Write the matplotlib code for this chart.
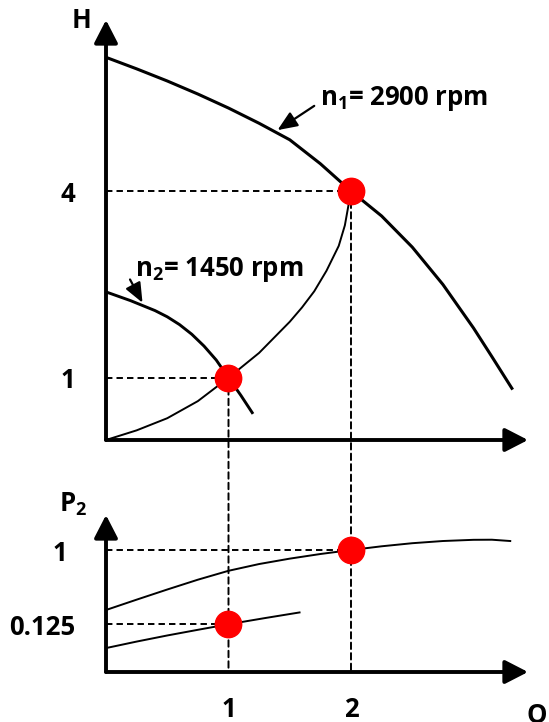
import matplotlib
matplotlib.use('Agg')
import matplotlib.pyplot as plt
from matplotlib.patches import ConnectionPatch
import numpy as np

plt.rcParams['font.family'] = ['Open Sans', 'DejaVu Sans']
plt.rcParams['font.weight'] = 'bold'
plt.rcParams['mathtext.fontset'] = 'custom'
plt.rcParams['mathtext.rm'] = 'Open Sans:bold'
plt.rcParams['mathtext.it'] = 'Open Sans:bold'
plt.rcParams['mathtext.bf'] = 'Open Sans:bold'

# ---------------- data ----------------
# pump curve at n1 = 2900 rpm (H vs Q)
q_n1 = [0.0, 0.25, 0.5, 0.75, 1.0, 1.25, 1.5, 1.75, 2.0, 2.25, 2.5, 2.75, 3.0, 3.15, 3.32]
h_n1 = [6.15, 5.965, 5.77, 5.56, 5.335, 5.09, 4.825, 4.44, 4.0, 3.6, 3.1, 2.5, 1.8, 1.34, 0.81]
# pump curve at n2 = 1450 rpm
q_n2 = [0.0, 0.2, 0.4, 0.5, 0.6, 0.7, 0.8, 0.9, 1.0, 1.1, 1.2]
h_n2 = [2.38, 2.24, 2.08, 1.98, 1.855, 1.70, 1.51, 1.285, 1.0, 0.72, 0.42]
# system / affinity parabola
q_sys = [0.0, 0.25, 0.5, 0.75, 1.0, 1.25, 1.5, 1.6, 1.7, 1.8, 1.9, 1.95, 2.0]
h_sys = [0.0, 0.155, 0.35, 0.625, 1.0, 1.4, 1.9, 2.13, 2.39, 2.72, 3.12, 3.45, 4.0]
# power curves P2 vs Q
q_p1 = [0.0, 0.25, 0.5, 0.75, 1.0, 1.25, 1.5, 1.75, 2.0, 2.25, 2.5, 2.75, 3.0, 3.15, 3.3]
p_p1 = [0.223, 0.314, 0.420, 0.539, 0.661, 0.763, 0.850, 0.929, 1.0, 1.069, 1.128,
        1.171, 1.195, 1.197, 1.171]
q_p2 = [0.0, 0.25, 0.5, 0.75, 1.0, 1.3, 1.58]
p_p2 = [0.027, 0.046, 0.069, 0.095, 0.125, 0.164, 0.204]
# operating points
op_q = [1, 2]
op_h = [1, 4]
op_p = [0.125, 1]
h_ticks = [1, 4]
h_tick_labels = ['1', '4']
p_ticks = [0.125, 1]
p_tick_labels = ['0.125', '1']
q_ticks = [1, 2]
q_tick_labels = ['1', '2']
label_n1 = r'n$_{1}$= 2900 rpm'
label_n2 = r'n$_{2}$= 1450 rpm'

# ---------------- figure ----------------
W, Hh = 549, 722
FS = 18.5
fig = plt.figure(figsize=(W / 100, Hh / 100), dpi=100)
ax1 = fig.add_axes([106 / W, (Hh - 440) / Hh, (528 - 106) / W, (440 - 20) / Hh])
ax2 = fig.add_axes([106 / W, (Hh - 672) / Hh, (528 - 106) / W, (672 - 515) / Hh])
ax1.set_zorder(3)
ax2.set_zorder(1)
ax1.patch.set_facecolor('none')

ax1.set_xlim(0, 3.445)
ax1.set_ylim(0, 6.75)
ax2.set_xlim(0, 3.445)
expo = 0.451
ax2.set_yscale('function', functions=(lambda p: np.power(np.clip(p, 0, None), expo),
                                      lambda y: np.power(np.clip(y, 0, None), 1 / expo)))
ax2.set_ylim(0, 1.75)

for ax in (ax1, ax2):
    for s in ax.spines.values():
        s.set_visible(False)
    for xy in [(0, 1), (1, 0)]:
        ax.annotate('', xy=xy, xytext=(0, 0), xycoords='axes fraction',
                    arrowprops=dict(arrowstyle='-|>,head_length=0.7,head_width=0.36',
                                    mutation_scale=20, lw=2.8, color='black',
                                    shrinkA=0, shrinkB=0),
                    annotation_clip=False, zorder=6)
    ax.tick_params(length=0)

dash = (0, (3.3, 2.1))
LWD = 1.4

# top curves
ax1.plot(q_n1, h_n1, color='black', lw=2.2, solid_capstyle='butt', solid_joinstyle='round', clip_on=False)
ax1.plot(q_n2, h_n2, color='black', lw=2.1, solid_capstyle='butt', solid_joinstyle='round', clip_on=False)
ax1.plot(q_sys, h_sys, color='black', lw=1.4, solid_joinstyle='round', clip_on=False)

for q, h in zip(op_q, op_h):
    ax1.plot([0, q], [h, h], color='black', lw=LWD, ls=dash)
ax1.plot(op_q, op_h, 'o', color='#ff0000', ms=19, zorder=5, clip_on=False)

ax1.set_xticks([])
ax1.set_yticks(h_ticks, labels=h_tick_labels)
ax1.tick_params(axis='y', pad=22, labelsize=FS)

ax1.text(1.743, 5.39, label_n1, fontsize=FS, fontweight='bold', ha='left', va='baseline')
ax1.annotate('', xy=(1.40, 4.98), xytext=(1.70, 5.37),
             arrowprops=dict(arrowstyle='-|>,head_length=0.6,head_width=0.25',
                             mutation_scale=20, lw=1.6, color='black', shrinkA=0, shrinkB=0))
ax1.text(0.233, 2.63, label_n2, fontsize=FS, fontweight='bold', ha='left', va='baseline')
ax1.annotate('', xy=(0.298, 2.206), xytext=(0.196, 2.58),
             arrowprops=dict(arrowstyle='-|>,head_length=0.6,head_width=0.25',
                             mutation_scale=20, lw=1.6, color='black', shrinkA=0, shrinkB=0))

# bottom curves
ax2.plot(q_p1, p_p1, color='black', lw=1.4, solid_joinstyle='round', clip_on=False)
ax2.plot(q_p2, p_p2, color='black', lw=1.4, solid_joinstyle='round', clip_on=False)
for q, p in zip(op_q, op_p):
    ax2.plot([0, q], [p, p], color='black', lw=LWD, ls=dash)
ax2.plot(op_q, op_p, 'o', color='#ff0000', ms=19, zorder=5, clip_on=False)

# vertical dashed lines across both panels
for q, h in zip(op_q, op_h):
    con = ConnectionPatch(xyA=(q, h), coordsA=ax1.transData,
                          xyB=(q, 0), coordsB=ax2.transData,
                          color='black', lw=LWD, ls=dash, zorder=2)
    ax2.add_artist(con)

ax2.set_xticks(q_ticks, labels=q_tick_labels)
ax2.set_yticks(p_ticks, labels=p_tick_labels)
ax2.tick_params(axis='y', labelsize=FS)
ax2.tick_params(axis='x', pad=17, labelsize=FS)
yt = ax2.yaxis.get_major_ticks()
yt[0].set_pad(22)
yt[1].set_pad(28)
ax2.minorticks_off()

fig.text(82 / W, 1 - 21 / Hh, 'H', fontsize=FS, fontweight='bold', ha='center', va='center')
fig.text(59 / W, 1 - 511 / Hh, r'P$_{2}$', fontsize=FS, fontweight='bold', ha='left', va='baseline')
fig.text(527 / W, 1 - 715 / Hh, 'Q', fontsize=FS, fontweight='bold', ha='left', va='center')

fig.savefig('out.png', dpi=100)
